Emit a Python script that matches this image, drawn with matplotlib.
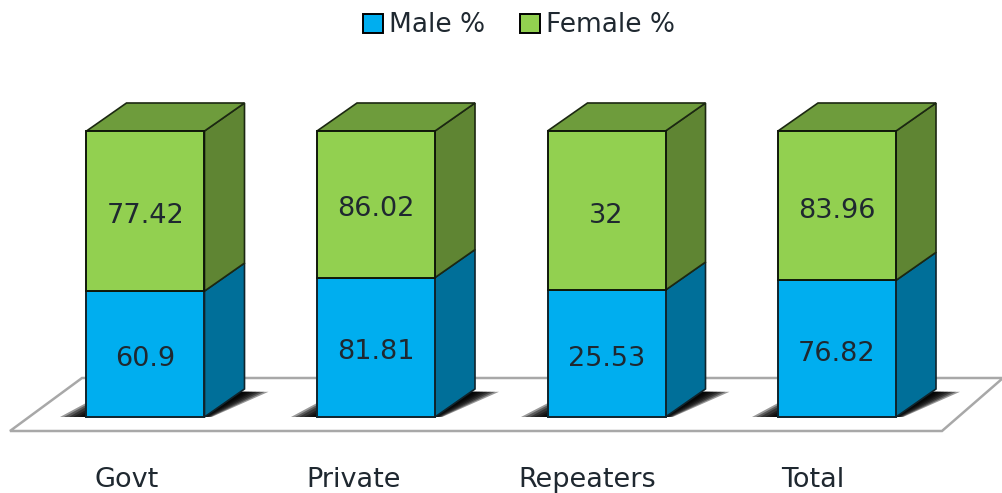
import matplotlib
matplotlib.use('Agg')
import matplotlib.pyplot as plt
from matplotlib.patches import Polygon, Patch
import numpy as np

categories = ['Govt', 'Private', 'Repeaters', 'Total']
male = [60.9, 81.81, 25.53, 76.82]
female = [77.42, 86.02, 32, 83.96]
male_labels = ['60.9', '81.81', '25.53', '76.82']
female_labels = ['77.42', '86.02', '32', '83.96']
cat_offsets = [-19, -22, -19, -24]

W, H = 1003, 493
blue = '#00AEEF'
blue_side = '#006F99'
green = '#92D050'
green_top = '#6E9C3C'
green_side = '#5F8533'
text_col = '#1f2830'

plt.rcParams['font.family'] = ['DejaVu Sans']
fig = plt.figure(figsize=(W / 100, H / 100), dpi=100)
ax = fig.add_axes([0, 0, 1, 1])

# one category = 230.5 px, full stack = 286 px
px_x = 230.5
px_y = 286
x0 = 145.5
ax.set_xlim(-x0 / px_x, (W - x0) / px_x)
ax.set_ylim(-(H - 417) / px_y, 417 / px_y)
ax.axis('off')

male = np.array(male)
female = np.array(female)
share = male / (male + female)
width = 118 / px_x
dx = 40 / px_x
dy = 28 / px_y


def fx(p):
    return (p - x0) / px_x


def fy(p):
    return (417 - p) / px_y


# floor
ax.add_patch(Polygon([(fx(10), fy(431)), (fx(942), fy(431)), (fx(1003), fy(378)), (fx(82), fy(378))],
                     facecolor='white', edgecolor='#a8a8a8', lw=1.8, zorder=1))

x = np.arange(len(categories))
for i in x:
    left = i - width / 2
    right = i + width / 2
    s = share[i]
    # soft shadow on the floor, stacked see-through layers
    for ext in [24, 20, 16, 12, 8, 5, 2]:
        ext_x = ext / px_x
        ax.add_patch(Polygon([(right, 0), (right + ext_x * 0.3, 0), (right + dx + ext_x, dy * 0.9),
                              (right + dx - 8 / px_x, dy * 0.9)],
                             facecolor='black', edgecolor='none', alpha=0.4, zorder=2))
        ax.add_patch(Polygon([(left - ext_x * 1.1, 0), (left, 0), (left, ext * 0.6 / px_y)],
                             facecolor='black', edgecolor='none', alpha=0.4, zorder=2))
    ax.add_patch(Polygon([(right, 0), (right + dx, dy), (right + dx, s + dy), (right, s)],
                         facecolor=blue_side, edgecolor='#10242c', lw=1.2, zorder=3))
    ax.add_patch(Polygon([(right, s), (right + dx, s + dy), (right + dx, 1 + dy), (right, 1)],
                         facecolor=green_side, edgecolor='#1c2812', lw=1.2, zorder=3))
    ax.add_patch(Polygon([(left, 1), (right, 1), (right + dx, 1 + dy), (left + dx, 1 + dy)],
                         facecolor=green_top, edgecolor='#1c2812', lw=1.2, zorder=3))

ax.bar(x, share, width, color=blue, edgecolor='#10242c', lw=1.4, zorder=4)
ax.bar(x, 1 - share, width, bottom=share, color=green, edgecolor='#10180a', lw=1.4, zorder=4)

for i in x:
    ax.text(i, share[i] / 2 - 0.018, male_labels[i], ha='center', va='center', fontsize=19.5, color=text_col, zorder=5)
    ax.text(i, (1 + share[i]) / 2 - 0.018, female_labels[i], ha='center', va='center', fontsize=19.5, color=text_col, zorder=5)
    ax.text(i + cat_offsets[i] / px_x, fy(480), categories[i], ha='center', va='center', fontsize=19.5, color=text_col, zorder=5)

handles = [Patch(facecolor=blue, edgecolor='black', lw=1.4), Patch(facecolor=green, edgecolor='black', lw=1.4)]
fig.legend(handles, ['Male %', 'Female %'], loc='center', bbox_to_anchor=(519 / W, 1 - 25.5 / H), ncol=2,
           frameon=False, fontsize=19, handlelength=0.75, handleheight=0.75, handletextpad=0.25, columnspacing=1.3,
           labelcolor=text_col, borderpad=0)

fig.savefig('out.png', dpi=100)
